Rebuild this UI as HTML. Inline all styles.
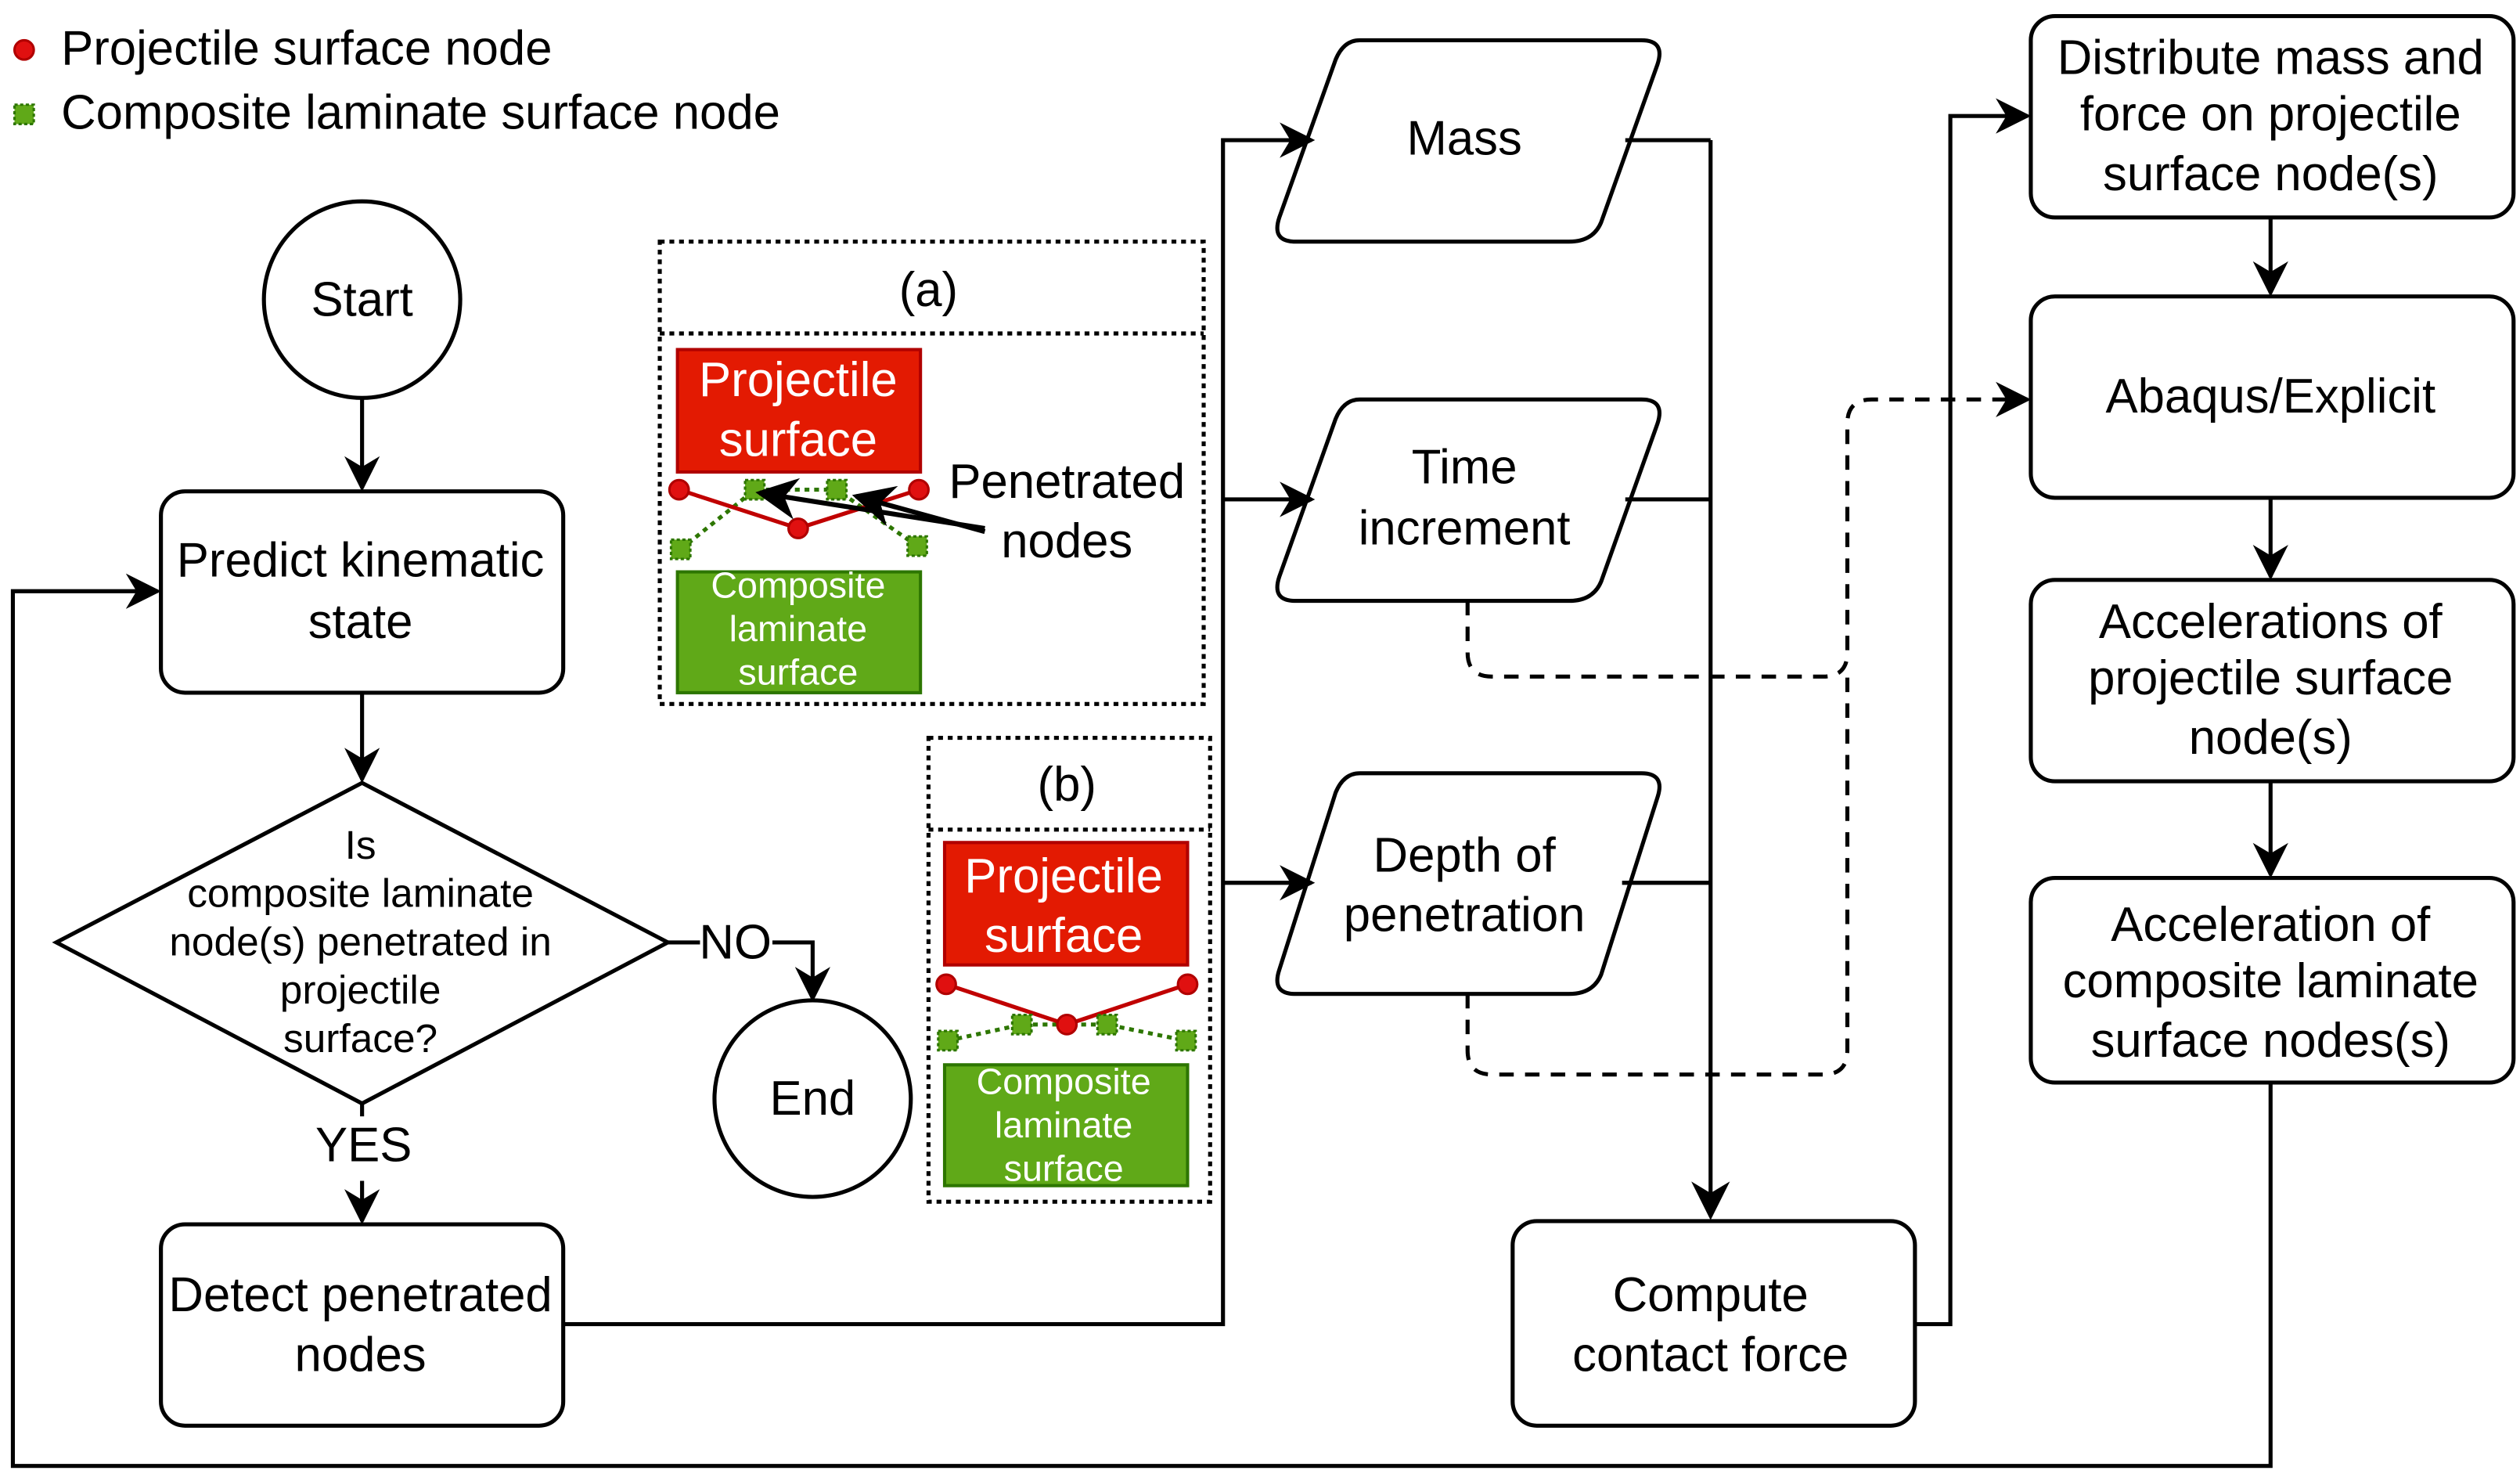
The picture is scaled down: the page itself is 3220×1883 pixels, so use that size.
<!DOCTYPE html>
<html><head><meta charset="utf-8"><style>
html,body{margin:0;padding:0;background:#fff;}
svg{display:block;}
text{font-family:"Liberation Sans",Arial,sans-serif;fill:#000;text-anchor:middle;}
</style></head><body>
<svg width="3220" height="1883" viewBox="0 0 1566 915" preserveAspectRatio="none" xmlns="http://www.w3.org/2000/svg" font-family="Liberation Sans, Arial, sans-serif">
<defs>
<marker id="ab" viewBox="0 0 10 10" refX="9" refY="5" markerWidth="22" markerHeight="22" markerUnits="userSpaceOnUse" orient="auto">
<path d="M0,0 L10,5 L0,10 L3,5 z" fill="#000"/></marker>
<marker id="ab3" viewBox="0 0 10 10" refX="9" refY="5" markerWidth="26" markerHeight="26" markerUnits="userSpaceOnUse" orient="auto">
<path d="M0,0 L10,5 L0,10 L3,5 z" fill="#000"/></marker>
<marker id="ab2" viewBox="0 0 10 10" refX="9" refY="5" markerWidth="24" markerHeight="24" markerUnits="userSpaceOnUse" orient="auto">
<path d="M0,0 L10,5 L0,10 L3,5 z" fill="#000"/></marker>
</defs>
<g stroke="#000" stroke-width="2.5" fill="none">
<circle cx="15" cy="31" r="6" fill="#e01010" stroke="#b00000" stroke-width="1.5"/>
<rect x="9" y="65" width="12" height="12" fill="#60a918" stroke="#2d7600" stroke-width="1.5" stroke-dasharray="2 1.5"/>
<circle cx="225" cy="186" r="61"/>
<line x1="225" y1="247" x2="225" y2="303" marker-end="url(#ab)"/>
<rect x="100" y="305" width="250" height="125" rx="15"/>
<line x1="225" y1="430" x2="225" y2="484" marker-end="url(#ab)"/>
<polygon points="35,585 225,486 415,585 225,685"/>
<polyline points="415,585 435,585"/>
<polyline points="480,585 505,585 505,620" marker-end="url(#ab)"/>
<circle cx="505" cy="682" r="61"/>
<line x1="225" y1="685" x2="225" y2="693"/>
<line x1="225" y1="733" x2="225" y2="758" marker-end="url(#ab)"/>
<rect x="100" y="760" width="250" height="125" rx="15"/>
<polyline points="350,822 760,822 760,87 815,87" marker-end="url(#ab)"/>
<line x1="760" y1="310" x2="815" y2="310" marker-end="url(#ab)"/>
<line x1="760" y1="548" x2="815" y2="548" marker-end="url(#ab)"/>
<path d="M845,25 L1020,25 Q1035,25 1030,40 L995,138 Q990,150 975,150 L805,150 Q790,150 795,135 L830,37 Q835,25 845,25 z"/>
<path d="M845,248 L1020,248 Q1035,248 1030,263 L995,361 Q990,373 975,373 L805,373 Q790,373 795,358 L830,260 Q835,248 845,248 z"/>
<path d="M845,480 L1020,480 Q1035,480 1030,495 L995,605 Q990,617 975,617 L805,617 Q790,617 795,602 L830,492 Q835,480 845,480 z"/>
<line x1="1010" y1="87" x2="1063" y2="87"/>
<line x1="1010" y1="310" x2="1063" y2="310"/>
<line x1="1008" y1="548" x2="1063" y2="548"/>
<line x1="1063" y1="87" x2="1063" y2="755" marker-end="url(#ab2)"/>
<rect x="940" y="758" width="250" height="127" rx="15"/>
<polyline points="1190,822 1212,822 1212,72 1260,72" marker-end="url(#ab)"/>
<rect x="1262" y="10" width="300" height="125" rx="15"/>
<line x1="1411" y1="135" x2="1411" y2="182" marker-end="url(#ab)"/>
<rect x="1262" y="184" width="300" height="125" rx="15"/>
<line x1="1411" y1="309" x2="1411" y2="358" marker-end="url(#ab)"/>
<rect x="1262" y="360" width="300" height="125" rx="15"/>
<line x1="1411" y1="485" x2="1411" y2="543" marker-end="url(#ab)"/>
<rect x="1262" y="545" width="300" height="127" rx="15"/>
<polyline points="1411,672 1411,910 8,910 8,367 98,367" marker-end="url(#ab)"/>
<g stroke-dasharray="9 7">
<path d="M912,373 L912,405 Q912,420 927,420 L1133,420 Q1148,420 1148,405 L1148,263 Q1148,248 1163,248 L1260,248" marker-end="url(#ab)"/>
<path d="M912,617 L912,652 Q912,667 927,667 L1133,667 Q1148,667 1148,652 L1148,420"/>
</g>
<g stroke-dasharray="3 3" stroke-width="2.5">
<rect x="410" y="150" width="338" height="287"/>
<line x1="410" y1="207" x2="748" y2="207"/>
<rect x="577" y="458" width="175" height="288"/>
<line x1="577" y1="515" x2="752" y2="515"/>
</g>
<rect x="421" y="217" width="151" height="76" fill="#e31a02" stroke="#b00000" stroke-width="2"/>
<rect x="421" y="355" width="151" height="75" fill="#60a918" stroke="#2d7600" stroke-width="2"/>
<polyline points="423,341 469,304 520,304 570,339" stroke="#2d7600" stroke-dasharray="3 3"/>
<polyline points="422,304 496,328 571,304" stroke="#c00000"/>
<g fill="#e01010" stroke="#b00000" stroke-width="1.5"><circle cx="422" cy="304" r="6"/><circle cx="496" cy="328" r="6"/><circle cx="571" cy="304" r="6"/></g>
<g fill="#60a918" stroke="#2d7600" stroke-width="1.5" stroke-dasharray="2 1.5"><rect x="417" y="335" width="12" height="12"/><rect x="463" y="298" width="12" height="12"/><rect x="514" y="298" width="12" height="12"/><rect x="564" y="333" width="12" height="12"/></g>
<line x1="612" y1="328" x2="472" y2="306" stroke-width="3" marker-end="url(#ab3)"/>
<line x1="612" y1="330" x2="532" y2="308" stroke-width="3" marker-end="url(#ab3)"/>
<rect x="587" y="523" width="151" height="76" fill="#e31a02" stroke="#b00000" stroke-width="2"/>
<rect x="587" y="661" width="151" height="75" fill="#60a918" stroke="#2d7600" stroke-width="2"/>
<polyline points="589,646 635,636 688,636 737,646" stroke="#2d7600" stroke-dasharray="3 3"/>
<polyline points="588,611 663,636 738,611" stroke="#c00000"/>
<g fill="#e01010" stroke="#b00000" stroke-width="1.5"><circle cx="588" cy="611" r="6"/><circle cx="663" cy="636" r="6"/><circle cx="738" cy="611" r="6"/></g>
<g fill="#60a918" stroke="#2d7600" stroke-width="1.5" stroke-dasharray="2 1.5"><rect x="583" y="640" width="12" height="12"/><rect x="629" y="630" width="12" height="12"/><rect x="682" y="630" width="12" height="12"/><rect x="731" y="640" width="12" height="12"/></g>
</g>
<g font-size="30">
<text x="38" y="40" style="text-anchor:start">Projectile surface node</text>
<text x="38" y="80" style="text-anchor:start">Composite laminate surface node</text>
<text x="225" y="196">Start</text>
<text x="224" y="358">Predict kinematic</text>
<text x="224" y="396">state</text>
<text x="505" y="692">End</text>
<text x="457" y="595">NO</text>
<text x="226" y="721">YES</text>
<text x="224" y="814">Detect penetrated</text>
<text x="224" y="851">nodes</text>
<text x="910" y="96">Mass</text>
<text x="910" y="300">Time</text>
<text x="910" y="338">increment</text>
<text x="910" y="541">Depth of</text>
<text x="910" y="578">penetration</text>
<text x="1063" y="814">Compute</text>
<text x="1063" y="851">contact force</text>
<text x="1411" y="46">Distribute mass and</text>
<text x="1411" y="81">force on projectile</text>
<text x="1411" y="118">surface node(s)</text>
<text x="1411" y="256">Abaqus/Explicit</text>
<text x="1411" y="396">Accelerations of</text>
<text x="1411" y="431">projectile surface</text>
<text x="1411" y="468">node(s)</text>
<text x="1411" y="584">Acceleration of</text>
<text x="1411" y="619">composite laminate</text>
<text x="1411" y="656">surface nodes(s)</text>
<text x="663" y="309">Penetrated</text>
<text x="663" y="346">nodes</text>
<text x="577" y="190">(a)</text>
<text x="663" y="497">(b)</text>
<text x="496" y="246" style="fill:#fff">Projectile</text><text x="496" y="283" style="fill:#fff">surface</text>
<text x="661" y="554" style="fill:#fff">Projectile</text><text x="661" y="591" style="fill:#fff">surface</text>
</g>
<g font-size="25">
<text x="224" y="533">Is</text>
<text x="224" y="563">composite laminate</text>
<text x="224" y="593">node(s) penetrated in</text>
<text x="224" y="623">projectile</text>
<text x="224" y="653">surface?</text>
</g>
<g font-size="22.7">
<text x="496" y="371" style="fill:#fff">Composite</text><text x="496" y="398" style="fill:#fff">laminate</text><text x="496" y="425" style="fill:#fff">surface</text>
<text x="661" y="679" style="fill:#fff">Composite</text><text x="661" y="706" style="fill:#fff">laminate</text><text x="661" y="733" style="fill:#fff">surface</text>
</g>
</svg>
</body></html>
